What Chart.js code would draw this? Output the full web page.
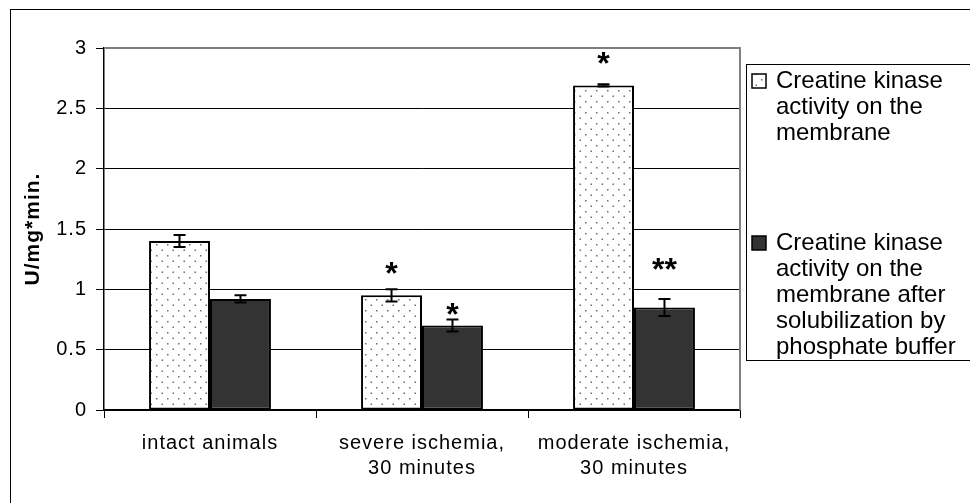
<head>
  <script src="https://cdn.jsdelivr.net/npm/chart.js@4.4.1/dist/chart.umd.min.js"></script>
  <style>
    body { margin: 0; background: #fff; }
    #wrap { width: 970px; height: 503px; }
  </style>
</head>

<body>
  <div id="wrap"><canvas id="myChart" width="970" height="503"></canvas></div>
  <script>
    // data
    var categories = [
      "intact animals",
      ["severe ischemia,", "30 minutes"],
      ["moderate ischemia,", "30 minutes"],
    ];
    var seriesNames = [
      ["Creatine kinase", "activity on the", "membrane"],
      ["Creatine kinase", "activity on the", "membrane after", "solubilization by", "phosphate buffer"],
    ];
    var membrane = [1.4, 0.95, 2.69];
    var membraneErr = [0.05, 0.05, 0.01];
    var solubilized = [0.92, 0.7, 0.85];
    var solubilizedErr = [0.03, 0.05, 0.07];
    // significance marks and the value level where each one sits
    var membraneMarks = ["", "*", "*"];
    var membraneMarkAt = [null, 1.18, 2.92];
    var solubilizedMarks = ["", "*", "**"];
    var solubilizedMarkAt = [null, 0.84, 1.21];
    var yTicks = [0, 0.5, 1, 1.5, 2, 2.5, 3];

    var FONT = "'Liberation Sans', Arial, sans-serif";

    function dotPattern() {
      var c = document.createElement("canvas");
      c.width = 11;
      c.height = 11;
      var g = c.getContext("2d");
      g.fillStyle = "#fff";
      g.fillRect(0, 0, 11, 11);
      g.fillStyle = "#6e6e6e";
      g.fillRect(2, 2, 1.5, 1.5);
      g.fillRect(7.5, 7.5, 1.5, 1.5);
      return g.createPattern(c, "repeat");
    }
    var dots = dotPattern();
    var dark = "#333333";

    var extras = {
      id: "extras",
      beforeDraw(chart) {
        var ctx = chart.ctx;
        ctx.save();
        ctx.fillStyle = "#fff";
        ctx.fillRect(0, 0, chart.width, chart.height);
        // outer frame
        ctx.strokeStyle = "#000";
        ctx.lineWidth = 1;
        ctx.strokeRect(10.5, 9.5, 980, 520);
        ctx.restore();
        // the old chart text is spread out a little
        ctx.letterSpacing = "1px";
      },
      beforeDatasetsDraw(chart) {
        chart.ctx.letterSpacing = "0px";
      },
      afterDatasetsDraw(chart) {
        var ctx = chart.ctx;
        var y = chart.scales.y;
        var a = chart.chartArea;
        ctx.save();
        // plot area frame (top / right)
        ctx.strokeStyle = "#808080";
        ctx.lineWidth = 2;
        ctx.beginPath();
        ctx.moveTo(a.left, a.top);
        ctx.lineTo(a.right, a.top);
        ctx.lineTo(a.right, a.bottom);
        ctx.stroke();

        var sets = [
          [membrane, membraneErr, membraneMarks, membraneMarkAt],
          [solubilized, solubilizedErr, solubilizedMarks, solubilizedMarkAt],
        ];
        ctx.strokeStyle = "#000";
        ctx.fillStyle = "#000";
        ctx.lineWidth = 2;
        ctx.font = "bold 32px " + FONT;
        ctx.textAlign = "center";
        ctx.textBaseline = "alphabetic";
        sets.forEach(function (s, i) {
          var meta = chart.getDatasetMeta(i);
          meta.data.forEach(function (bar, j) {
            var x = bar.x;
            var hi = y.getPixelForValue(s[0][j] + s[1][j]);
            var lo = y.getPixelForValue(s[0][j] - s[1][j]);
            ctx.beginPath();
            ctx.moveTo(x, hi);
            ctx.lineTo(x, lo);
            ctx.moveTo(x - 6, hi);
            ctx.lineTo(x + 6, hi);
            ctx.moveTo(x - 6, lo);
            ctx.lineTo(x + 6, lo);
            ctx.stroke();
            if (s[2][j]) {
              var m = ctx.measureText(s[2][j]);
              var cy = y.getPixelForValue(s[3][j]);
              var base = cy + (m.actualBoundingBoxAscent - m.actualBoundingBoxDescent) / 2;
              ctx.fillText(s[2][j], x, base);
            }
          });
        });
        ctx.restore();
      },
      afterDraw(chart) {
        var ctx = chart.ctx;
        ctx.save();
        // legend box
        ctx.strokeStyle = "#000";
        ctx.lineWidth = 1;
        ctx.strokeRect(746.5, 64.5, 300, 296);
        ctx.font = "24px " + FONT;
        ctx.textBaseline = "middle";
        ctx.textAlign = "left";
        var tops = [81, 243];
        var fills = [dots, dark];
        seriesNames.forEach(function (lines, i) {
          ctx.fillStyle = fills[i];
          ctx.fillRect(752, tops[i] - 7, 14, 14);
          ctx.lineWidth = 1.5;
          ctx.strokeRect(752, tops[i] - 7, 14, 14);
          ctx.fillStyle = "#000";
          lines.forEach(function (t, k) {
            ctx.fillText(t, 776, tops[i] + k * 26);
          });
        });
        ctx.restore();
      },
    };

    new Chart("myChart", {
      type: "bar",
      data: {
        labels: categories,
        datasets: [
          {
            label: seriesNames[0].join(" "),
            data: membrane,
            backgroundColor: dots,
            borderColor: "#000",
            borderWidth: 2,
            borderSkipped: false,
          },
          {
            label: seriesNames[1].join(" "),
            data: solubilized,
            backgroundColor: dark,
            borderColor: "#000",
            borderWidth: 2,
            borderSkipped: false,
          },
        ],
      },
      options: {
        responsive: false,
        animation: false,
        events: [],
        categoryPercentage: 0.575,
        barPercentage: 1,
        layout: { padding: { left: 10, right: 230, top: 48, bottom: 0 } },
        plugins: {
          legend: { display: false },
          tooltip: { enabled: false },
        },
        scales: {
          x: {
            grid: {
              offset: true,
              drawOnChartArea: false,
              drawTicks: true,
              tickLength: 8,
              color: "#000",
              tickColor: "#000",
            },
            border: { display: true, color: "#000", width: 1.5 },
            ticks: {
              color: "#000",
              font: { family: FONT, size: 20, lineHeight: 1.25 },
              padding: 13,
              maxRotation: 0,
              autoSkip: false,
            },
            afterFit(scale) {
              scale.height = 93;
            },
          },
          y: {
            min: 0,
            max: 3,
            afterBuildTicks(scale) {
              scale.ticks = yTicks.map(function (v) {
                return { value: v };
              });
            },
            grid: {
              color: function (c) {
                return c.tick && c.tick.value === 3 ? "#808080" : "#000";
              },
              tickColor: "#000",
              tickLength: 8,
              lineWidth: 1,
            },
            border: { display: true, color: "#000", width: 1.5 },
            ticks: {
              color: "#000",
              font: { family: FONT, size: 20 },
              padding: 9,
              callback: function (v) {
                return String(v);
              },
            },
            title: {
              display: true,
              text: "U/mg*min.",
              color: "#000",
              font: { family: FONT, size: 21, weight: "bold" },
              padding: { top: 11, bottom: 0 },
            },
            afterFit(scale) {
              scale.width = 94;
            },
          },
        },
      },
      plugins: [extras],
    });
  </script>
</body>
